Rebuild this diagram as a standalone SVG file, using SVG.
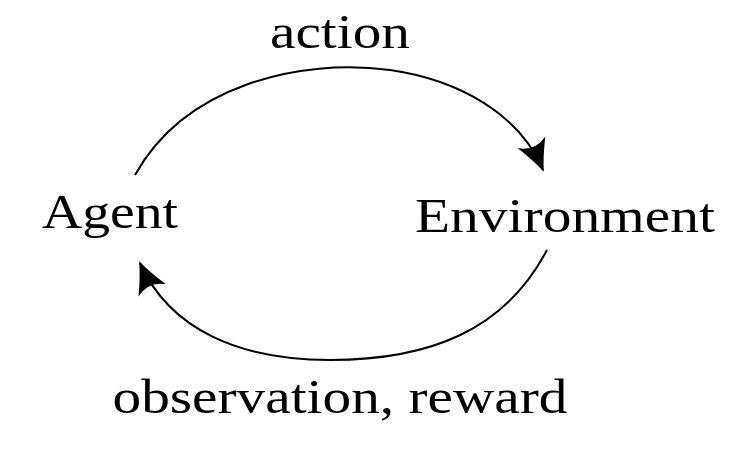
<svg xmlns="http://www.w3.org/2000/svg" width="744" height="456" viewBox="0 0 744 456">
<style>
text{font-family:"Liberation Serif","DejaVu Serif",serif;font-size:48px;fill:#000;text-anchor:middle}
.c{fill:none;stroke:#000;stroke-width:2}
</style>
<defs>
<marker id="ah2" markerWidth="34" markerHeight="34" refX="30" refY="17" orient="auto" markerUnits="userSpaceOnUse" viewBox="0 0 34 34">
<path d="M0,2 Q18,12 32,17 Q18,22 0,32 Q10,17 0,2 Z" fill="#000"/>
</marker>
</defs>
<g id="connectors">
<path class="c" d="M135,175 C185,85 300,58 390,70 C460,80 520,115 543,170" marker-end="url(#ah2)"/>
<path class="c" d="M547,250 C505,330 430,360 330,360 C240,360 170,330 140,263" marker-end="url(#ah2)"/>
</g>
<g id="agent"><text x="110" y="228" textLength="136" lengthAdjust="spacingAndGlyphs">Agent</text></g>
<g id="environment"><text x="565" y="232" textLength="300" lengthAdjust="spacingAndGlyphs">Environment</text></g>
<g id="action"><text x="340" y="48" textLength="140" lengthAdjust="spacingAndGlyphs">action</text></g>
<g id="obs"><text x="340" y="413" textLength="455" lengthAdjust="spacingAndGlyphs">observation, reward</text></g>
</svg>
